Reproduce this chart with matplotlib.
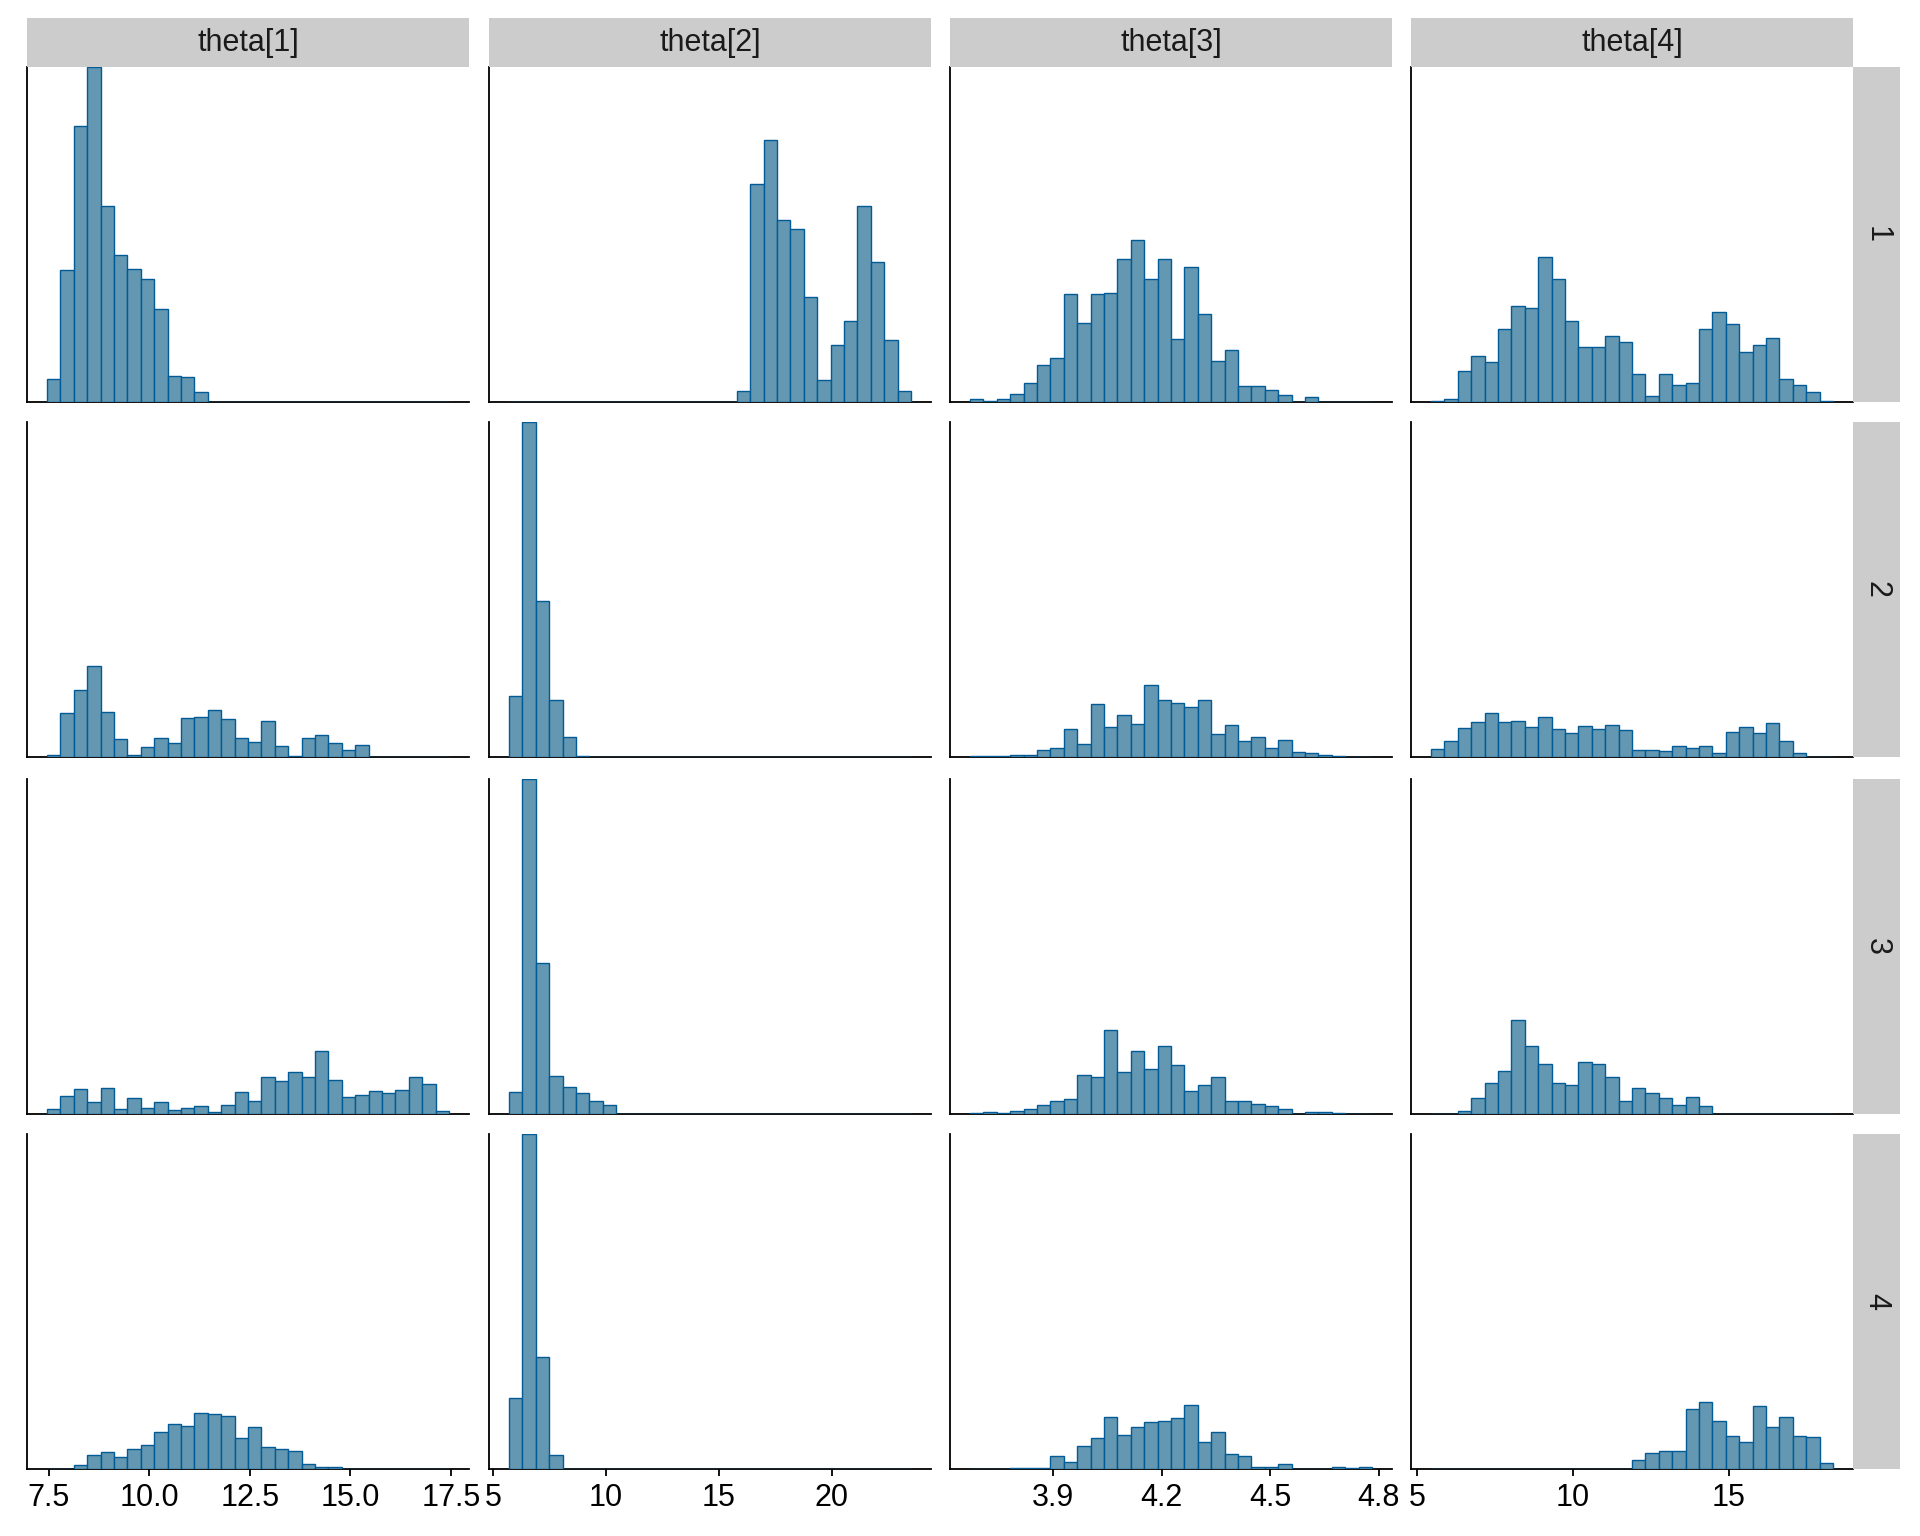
import numpy as np
import matplotlib
matplotlib.use("Agg")
import matplotlib.pyplot as plt
from matplotlib.patches import Rectangle

plt.rcParams['font.family'] = ['Liberation Sans', 'DejaVu Sans']

# ---------------- data (bin counts, 30 bins each) ----------------
parameters = ["theta[1]", "theta[2]", "theta[3]", "theta[4]"]
chains = ["1", "2", "3", "4"]

# range spanned by the histogram bars of each parameter
bin_lo = [7.46, 5.70, 3.670, 5.45]
bin_hi = [17.45, 23.50, 4.781, 18.33]

# x ticks per parameter
ticks_theta1 = [7.5, 10.0, 12.5, 15.0, 17.5]
ticklabels_theta1 = ["7.5", "10.0", "12.5", "15.0", "17.5"]
ticks_theta2 = [5, 10, 15, 20]
ticklabels_theta2 = ["5", "10", "15", "20"]
ticks_theta3 = [3.9, 4.2, 4.5, 4.8]
ticklabels_theta3 = ["3.9", "4.2", "4.5", "4.8"]
ticks_theta4 = [5, 10, 15]
ticklabels_theta4 = ["5", "10", "15"]

# counts per chain (rows) for each parameter
counts_theta1 = [
    [69, 395, 825, 1002, 585, 440, 399, 368, 278, 78, 74, 29, 0, 0, 0, 0, 0, 0, 0, 0, 0, 0, 0, 0, 0, 0, 0, 0, 0, 0],
    [5, 130, 201, 271, 135, 55, 5, 30, 57, 43, 115, 120, 139, 114, 57, 45, 108, 32, 2, 57, 65, 41, 21, 37, 0, 0, 0, 0, 0, 0],
    [14, 55, 74, 36, 78, 15, 49, 19, 36, 12, 17, 24, 5, 26, 65, 38, 111, 98, 126, 110, 189, 100, 51, 57, 69, 62, 72, 111, 89, 10],
    [1, 1, 12, 42, 51, 36, 60, 71, 109, 135, 127, 168, 164, 157, 92, 126, 65, 60, 53, 16, 7, 5, 0, 0, 0, 0, 0, 0, 0, 0],
]
counts_theta2 = [
    [0, 0, 0, 0, 0, 0, 0, 0, 0, 0, 0, 0, 0, 0, 0, 0, 0, 33, 653, 785, 545, 518, 314, 65, 169, 241, 585, 418, 186, 33],
    [182, 1000, 467, 170, 59, 4, 0, 0, 0, 0, 0, 0, 0, 0, 0, 0, 0, 0, 0, 0, 0, 0, 0, 0, 0, 0, 0, 0, 0, 0],
    [67, 999, 449, 112, 82, 63, 38, 27, 0, 0, 0, 0, 0, 0, 0, 0, 0, 0, 0, 0, 0, 0, 0, 0, 0, 0, 0, 0, 0, 0],
    [211, 998, 335, 41, 0, 0, 0, 0, 0, 0, 0, 0, 0, 0, 0, 0, 0, 0, 0, 0, 0, 0, 0, 0, 0, 0, 0, 0, 0, 0],
]
counts_theta3 = [
    [10, 2, 10, 24, 57, 110, 132, 323, 237, 323, 327, 427, 486, 368, 427, 187, 405, 264, 123, 155, 47, 47, 37, 20, 0, 14, 0, 0, 0, 1],
    [2, 2, 2, 7, 5, 22, 26, 84, 38, 159, 90, 126, 98, 215, 169, 161, 148, 171, 70, 95, 48, 61, 28, 50, 14, 12, 5, 3, 1, 1],
    [2, 5, 3, 10, 16, 28, 39, 44, 116, 109, 251, 125, 189, 133, 203, 145, 68, 85, 111, 39, 38, 30, 25, 14, 1, 6, 5, 4, 1, 1],
    [1, 1, 1, 3, 3, 3, 38, 22, 68, 93, 156, 100, 124, 140, 144, 151, 192, 81, 110, 46, 38, 5, 7, 14, 1, 1, 0, 7, 2, 7],
]
counts_theta4 = [
    [2, 10, 92, 137, 119, 219, 286, 282, 435, 368, 241, 165, 165, 196, 178, 83, 19, 83, 51, 56, 219, 268, 232, 151, 169, 192, 69, 51, 29, 2],
    [24, 47, 87, 105, 130, 104, 106, 90, 120, 85, 72, 92, 83, 96, 81, 21, 21, 19, 32, 27, 34, 13, 75, 90, 72, 101, 47, 12, 1, 1],
    [1, 1, 8, 47, 92, 128, 280, 202, 149, 93, 86, 154, 150, 111, 39, 78, 64, 47, 27, 51, 25, 0, 0, 0, 0, 0, 0, 0, 0, 0],
    [1, 1, 1, 1, 1, 1, 1, 1, 1, 1, 1, 1, 1, 1, 1, 27, 48, 55, 55, 180, 201, 144, 99, 81, 189, 124, 154, 99, 95, 18],
]

all_counts = [counts_theta1, counts_theta2, counts_theta3, counts_theta4]
all_ticks = [ticks_theta1, ticks_theta2, ticks_theta3, ticks_theta4]
all_ticklabels = [ticklabels_theta1, ticklabels_theta2, ticklabels_theta3, ticklabels_theta4]

# ---------------- style ----------------
FILL = "#6497b1"
EDGE = "#005b96"
STRIP = "#cccccc"
W, H = 1920, 1536
DPI = 100

fig = plt.figure(figsize=(W / DPI, H / DPI), dpi=DPI)
fig.patch.set_facecolor("white")

col_left = [27, 489, 950, 1411]
col_w = 442
row_top = [67, 422, 779, 1134]
row_h = 335
strip_top = 18
strip_h = 49
rstrip_w = 47


def fx(px):
    return px / W


def fy(py):
    return 1 - py / H


row_max = [max(max(all_counts[p][c]) for p in range(4)) for c in range(4)]

for c in range(4):
    for p in range(4):
        ax = fig.add_axes([fx(col_left[p]), fy(row_top[c] + row_h), col_w / W, row_h / H])
        counts = all_counts[p][c]
        edges = np.linspace(bin_lo[p], bin_hi[p], len(counts) + 1)
        ax.bar(edges[:-1], counts, width=np.diff(edges), align="edge",
               color=FILL, edgecolor=EDGE, linewidth=1.0, zorder=4)
        span = bin_hi[p] - bin_lo[p]
        ax.set_xlim(bin_lo[p] - 0.05 * span, bin_hi[p] + 0.05 * span)
        ax.set_ylim(0, row_max[c])
        for s in ["top", "right"]:
            ax.spines[s].set_visible(False)
        for s in ["left", "bottom"]:
            ax.spines[s].set_linewidth(1.3)
            ax.spines[s].set_color("black")
            ax.spines[s].set_zorder(3)
        ax.set_yticks([])
        if c == 3:
            ax.set_xticks(all_ticks[p])
            ax.set_xticklabels(all_ticklabels[p], fontsize=22)
            ax.tick_params(axis="x", length=5, width=1.3, pad=5, colors="black")
        else:
            ax.set_xticks([])

# top strips
for p in range(4):
    fig.patches.append(Rectangle((fx(col_left[p]), fy(strip_top + strip_h)), col_w / W, strip_h / H,
                                 transform=fig.transFigure, facecolor=STRIP, edgecolor="none"))
    fig.text(fx(col_left[p] + col_w / 2), fy(strip_top + strip_h / 2), parameters[p],
             ha="center", va="center", fontsize=22, color="#1a1a1a")

# right strips
rx = col_left[3] + col_w
for c in range(4):
    fig.patches.append(Rectangle((fx(rx), fy(row_top[c] + row_h)), rstrip_w / W, row_h / H,
                                 transform=fig.transFigure, facecolor=STRIP, edgecolor="none"))
    fig.text(fx(rx + rstrip_w / 2), fy(row_top[c] + row_h / 2), chains[c],
             ha="center", va="center", fontsize=22, rotation=-90, color="#1a1a1a")

fig.savefig("out.png", dpi=DPI, facecolor="white")
